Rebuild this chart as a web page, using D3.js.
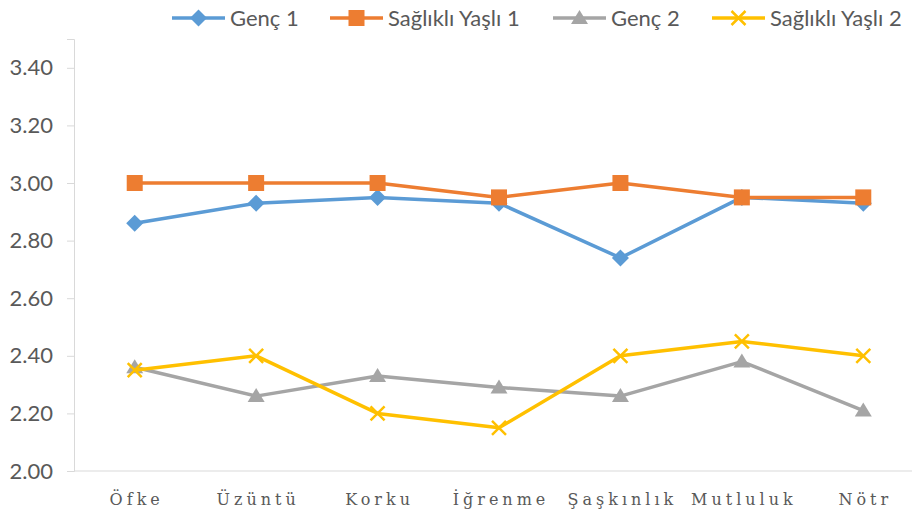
<!DOCTYPE html>
<html>
<head>
<meta charset="utf-8">
<script src="https://cdn.jsdelivr.net/npm/d3@7"></script>
<style>
  body { margin: 0; background: #fff; }
  svg { display: block; }
</style>
</head>
<body>
<svg id="chart" width="912" height="510"></svg>
<script>
// categories and series
const categories = ["Öfke", "Üzüntü", "Korku", "İğrenme", "Şaşkınlık", "Mutluluk", "Nötr"];
const genc1 = [2.86, 2.93, 2.95, 2.93, 2.74, 2.95, 2.93];
const yasli1 = [3.00, 3.00, 3.00, 2.95, 3.00, 2.95, 2.95];
const genc2 = [2.36, 2.26, 2.33, 2.29, 2.26, 2.38, 2.21];
const yasli2 = [2.35, 2.40, 2.20, 2.15, 2.40, 2.45, 2.40];
const yTicks = [2.0, 2.2, 2.4, 2.6, 2.8, 3.0, 3.2, 3.4];

const series = [
    { name: "Genç 1", values: genc1, color: "#5B9BD5", marker: "diamond" },
    { name: "Sağlıklı Yaşlı 1", values: yasli1, color: "#ED7D31", marker: "square" },
    { name: "Genç 2", values: genc2, color: "#A5A5A5", marker: "triangle" },
    { name: "Sağlıklı Yaşlı 2", values: yasli2, color: "#FFC000", marker: "cross" }
];

const svg = d3.select("#chart");
const plot = { left: 74, right: 924, top: 39, bottom: 471 };

const x = d3.scalePoint()
    .domain(categories)
    .range([plot.left, plot.right])
    .padding(0.5);

const y = d3.scaleLinear()
    .domain([2.0, 3.5])
    .range([plot.bottom, plot.top]);

// y axis
const yAxis = svg.append("g")
    .attr("transform", `translate(${plot.left},0)`)
    .call(d3.axisLeft(y).tickValues(yTicks).tickFormat(d3.format(".2f")).tickSizeOuter(0).tickSize(7).tickPadding(14));
yAxis.select(".domain").attr("stroke", "#D9D9D9");
yAxis.selectAll(".tick line").attr("stroke", "#D9D9D9");
yAxis.selectAll("text")
    .attr("fill", "#595959")
    .style("font-family", "Lato, 'Liberation Sans', sans-serif")
    .style("font-size", "22px");

// x axis line
svg.append("line")
    .attr("x1", plot.left).attr("x2", 912)
    .attr("y1", plot.bottom).attr("y2", plot.bottom)
    .attr("stroke", "#D9D9D9");

svg.append("g")
    .selectAll("text")
    .data(categories)
    .join("text")
    .attr("x", d => x(d))
    .attr("y", 505)
    .attr("dx", 2)
    .attr("text-anchor", "middle")
    .attr("fill", "#595959")
    .style("font-family", "'DejaVu Serif', serif")
    .style("font-size", "16px")
    .style("letter-spacing", "4px")
    .text(d => d);

// marker shapes
function drawMarker(g, type, color, cx, cy) {
    if (type === "diamond") {
        g.append("path")
            .attr("d", `M${cx},${cy - 8.5}L${cx + 8.5},${cy}L${cx},${cy + 8.5}L${cx - 8.5},${cy}Z`)
            .attr("fill", color);
    } else if (type === "square") {
        g.append("rect")
            .attr("x", cx - 8).attr("y", cy - 8)
            .attr("width", 16).attr("height", 16)
            .attr("fill", color);
    } else if (type === "triangle") {
        g.append("path")
            .attr("d", `M${cx},${cy - 8}L${cx + 8.5},${cy + 6}L${cx - 8.5},${cy + 6}Z`)
            .attr("fill", color);
    } else {
        g.append("path")
            .attr("d", `M${cx - 7},${cy - 7}L${cx + 7},${cy + 7}M${cx + 7},${cy - 7}L${cx - 7},${cy + 7}`)
            .attr("stroke", color)
            .attr("stroke-width", 2.5)
            .attr("fill", "none");
    }
}

const line = d3.line()
    .x((d, i) => x(categories[i]))
    .y(d => y(d));

series.forEach(s => {
    const g = svg.append("g");
    g.append("path")
        .datum(s.values)
        .attr("d", line)
        .attr("fill", "none")
        .attr("stroke", s.color)
        .attr("stroke-width", 3.5)
        .attr("stroke-linejoin", "round");
    s.values.forEach((v, i) => drawMarker(g, s.marker, s.color, x(categories[i]), y(v)));
});

// legend
const legendX = [172, 330, 553, 712];
series.forEach((s, i) => {
    const g = svg.append("g");
    g.append("line")
        .attr("x1", legendX[i]).attr("x2", legendX[i] + 53)
        .attr("y1", 18).attr("y2", 18)
        .attr("stroke", s.color)
        .attr("stroke-width", 3.5);
    drawMarker(g, s.marker, s.color, legendX[i] + 26.5, 18);
    g.append("text")
        .attr("x", legendX[i] + 58)
        .attr("y", 26)
        .attr("fill", "#595959")
        .style("font-family", "Lato, 'Liberation Sans', sans-serif")
        .style("font-size", "22px")
        .text(s.name);
});
</script>
</body>
</html>
